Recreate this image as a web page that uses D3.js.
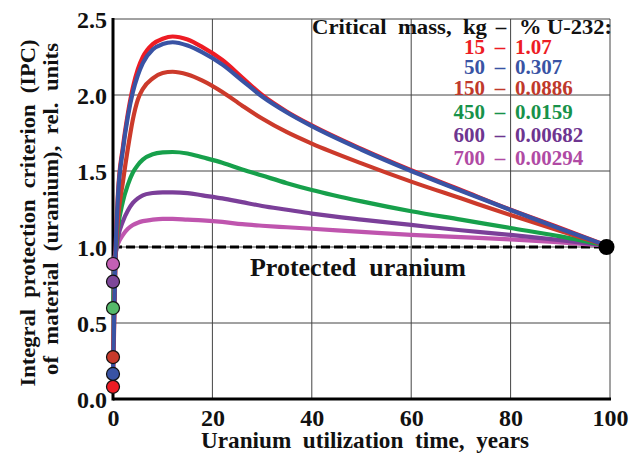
<!DOCTYPE html>
<html><head><meta charset="utf-8">
<script src="https://cdn.jsdelivr.net/npm/d3@7"></script>
<style>
html,body{margin:0;padding:0;background:#fff;}
text{font-family:"Liberation Serif","Times New Roman",serif;font-weight:bold;white-space:pre;}
</style></head>
<body>
<svg id="chart" width="633" height="456"></svg>
<script>
// ---- data ----
const years = [0, 0.5, 1, 2, 3, 4, 5, 6, 8, 10, 12, 15, 18, 22, 26, 30, 35, 40, 50, 60, 70, 80, 90, 99.3];
const ipc15  = [0.08, 0.95, 1.35, 1.66, 1.88, 2.05, 2.17, 2.25, 2.335, 2.37, 2.385, 2.365, 2.315, 2.23, 2.115, 2.0, 1.89, 1.80, 1.645, 1.505, 1.375, 1.245, 1.125, 1.01];
const ipc50  = [0.165, 0.95, 1.33, 1.64, 1.86, 2.02, 2.13, 2.21, 2.30, 2.335, 2.347, 2.325, 2.28, 2.20, 2.095, 1.99, 1.885, 1.795, 1.64, 1.50, 1.37, 1.243, 1.12, 1.01];
const ipc150 = [0.276, 0.92, 1.18, 1.43, 1.65, 1.84, 1.97, 2.04, 2.11, 2.145, 2.153, 2.135, 2.095, 2.02, 1.93, 1.845, 1.755, 1.68, 1.55, 1.43, 1.32, 1.21, 1.105, 1.01];
const ipc450 = [0.598, 0.93, 1.12, 1.30, 1.41, 1.49, 1.54, 1.575, 1.61, 1.622, 1.625, 1.615, 1.59, 1.555, 1.51, 1.47, 1.42, 1.375, 1.30, 1.235, 1.18, 1.125, 1.07, 1.01];
const ipc600 = [0.772, 0.94, 1.06, 1.17, 1.24, 1.29, 1.32, 1.34, 1.355, 1.36, 1.36, 1.355, 1.34, 1.32, 1.295, 1.27, 1.245, 1.22, 1.18, 1.145, 1.11, 1.08, 1.045, 1.01];
const ipc700 = [0.888, 0.96, 1.02, 1.08, 1.12, 1.145, 1.16, 1.17, 1.18, 1.185, 1.185, 1.18, 1.175, 1.165, 1.15, 1.14, 1.13, 1.12, 1.10, 1.08, 1.065, 1.05, 1.03, 1.01];
const criticalMass = ["15", "50", "150", "450", "600", "700"];
const percentU232 = ["1.07", "0.307", "0.0886", "0.0159", "0.00682", "0.00294"];
const xTicks = [0, 20, 40, 60, 80, 100];
const yTicks = [0, 0.5, 1.0, 1.5, 2.0, 2.5];
const protectedLevel = 1.0;
const endYear = 99.3;

// ---- styles ----
const lineColors = ["#ed1c24", "#3953a4", "#cc3a2b", "#17a04b", "#7b3f99", "#bf55ae"];
const dotColors  = ["#ed1c24", "#3953a4", "#c83a2b", "#55b96a", "#7d4699", "#c460b4"];
const textColors = ["#ed1c24", "#3953a4", "#c0392b", "#17924a", "#6e3590", "#b04aa4"];
const series = [ipc15, ipc50, ipc150, ipc450, ipc600, ipc700];

const svg = d3.select("#chart");
const L = 113, R = 610, T = 19, B = 399;
const x = d3.scaleLinear().domain([0, 100]).range([L, R]);
const y = d3.scaleLinear().domain([0, 2.5]).range([B, T]);

// grid
const g = svg.append("g");
g.selectAll(".vg").data(xTicks.slice(1)).enter().append("line")
  .attr("x1", d => x(d)).attr("x2", d => x(d)).attr("y1", T).attr("y2", B)
  .attr("stroke", "#444").attr("stroke-width", 1);
g.selectAll(".hg").data(yTicks.slice(1)).enter().append("line")
  .attr("x1", L).attr("x2", R).attr("y1", d => y(d)).attr("y2", d => y(d))
  .attr("stroke", "#444").attr("stroke-width", 1);

// axes
const xAxis = d3.axisBottom(x).tickValues(xTicks).tickSize(0).tickPadding(12).tickFormat(d3.format("d"));
const yAxis = d3.axisLeft(y).tickValues(yTicks).tickSize(0).tickPadding(6).tickFormat(d3.format(".1f"));
const gx = svg.append("g").attr("transform", `translate(0,${B})`).call(xAxis);
const gy = svg.append("g").attr("transform", `translate(${L},0)`).call(yAxis);
[gx, gy].forEach(a => {
  a.select(".domain").remove();
  a.selectAll("text").attr("font-size", 24).attr("fill", "#111")
    .style("font-family", '"Liberation Serif",serif').style("font-weight", "bold");
});
gx.selectAll("text").attr("dy", "0.62em");
gy.selectAll("text").attr("dy", "0.34em");

svg.append("line").attr("x1", L).attr("x2", R + 1).attr("y1", B).attr("y2", B)
  .attr("stroke", "#000").attr("stroke-width", 3);
svg.append("line").attr("x1", L).attr("x2", L).attr("y1", T - 1).attr("y2", B + 1.5)
  .attr("stroke", "#000").attr("stroke-width", 3);

// dashed protected line
svg.append("line").attr("x1", x(0)).attr("x2", x(endYear)).attr("y1", y(protectedLevel)).attr("y2", y(protectedLevel))
  .attr("stroke", "#000").attr("stroke-width", 3).attr("stroke-dasharray", "9,4");

// curves
const line = d3.line().x((d, i) => x(years[i])).y(d => y(d)).curve(d3.curveMonotoneX);
const order = [5, 4, 3, 2, 0, 1];
order.forEach(k => {
  svg.append("path").attr("d", line(series[k])).attr("fill", "none")
    .attr("stroke", lineColors[k]).attr("stroke-width", 4.2).attr("stroke-linejoin", "round");
});

// start dots
series.forEach((s, k) => {
  svg.append("circle").attr("cx", x(0)).attr("cy", y(s[0])).attr("r", 6.5)
    .attr("fill", dotColors[k]).attr("stroke", "#111").attr("stroke-width", 1.2);
});
// end dot
svg.append("circle").attr("cx", x(endYear)).attr("cy", y(protectedLevel)).attr("r", 8).attr("fill", "#000");

// labels
svg.append("text").attr("x", 358).attr("y", 276).attr("text-anchor", "middle")
  .attr("font-size", 25).attr("fill", "#111").attr("textLength", 216).attr("lengthAdjust", "spacingAndGlyphs")
  .text("Protected  uranium");

// legend
const title = svg.append("text").attr("y", 34).attr("font-size", 21).attr("fill", "#111");
title.append("tspan").attr("x", 312).attr("textLength", 175).attr("lengthAdjust", "spacingAndGlyphs").text("Critical  mass,  kg");
title.append("tspan").attr("x", 501).attr("text-anchor", "middle").text("–");
title.append("tspan").attr("x", 519).attr("textLength", 93).attr("lengthAdjust", "spacingAndGlyphs").text("% U-232:");
const rowY = [54, 74, 95, 119, 142, 165];
criticalMass.forEach((m, i) => {
  const t = svg.append("text").attr("y", rowY[i]).attr("font-size", 21).attr("fill", textColors[i]);
  t.append("tspan").attr("x", 485).attr("text-anchor", "end").text(m);
  t.append("tspan").attr("x", 500).attr("text-anchor", "middle").text("–");
  t.append("tspan").attr("x", 515).attr("text-anchor", "start").text(percentU232[i]);
});

// axis titles
svg.append("text").attr("x", 365).attr("y", 448).attr("text-anchor", "middle").attr("font-size", 23).attr("fill", "#111")
  .attr("textLength", 328).attr("lengthAdjust", "spacingAndGlyphs")
  .text("Uranium  utilization  time,  years");
svg.append("text").attr("transform", "translate(35,213) rotate(-90)").attr("text-anchor", "middle").attr("font-size", 22).attr("fill", "#111")
  .attr("textLength", 347).attr("lengthAdjust", "spacingAndGlyphs")
  .text("Integral  protection  criterion  (IPC)");
svg.append("text").attr("transform", "translate(58,209) rotate(-90)").attr("text-anchor", "middle").attr("font-size", 22).attr("fill", "#111")
  .attr("textLength", 332).attr("lengthAdjust", "spacingAndGlyphs")
  .text("of  material  (uranium),  rel.  units");
</script>
</body></html>
